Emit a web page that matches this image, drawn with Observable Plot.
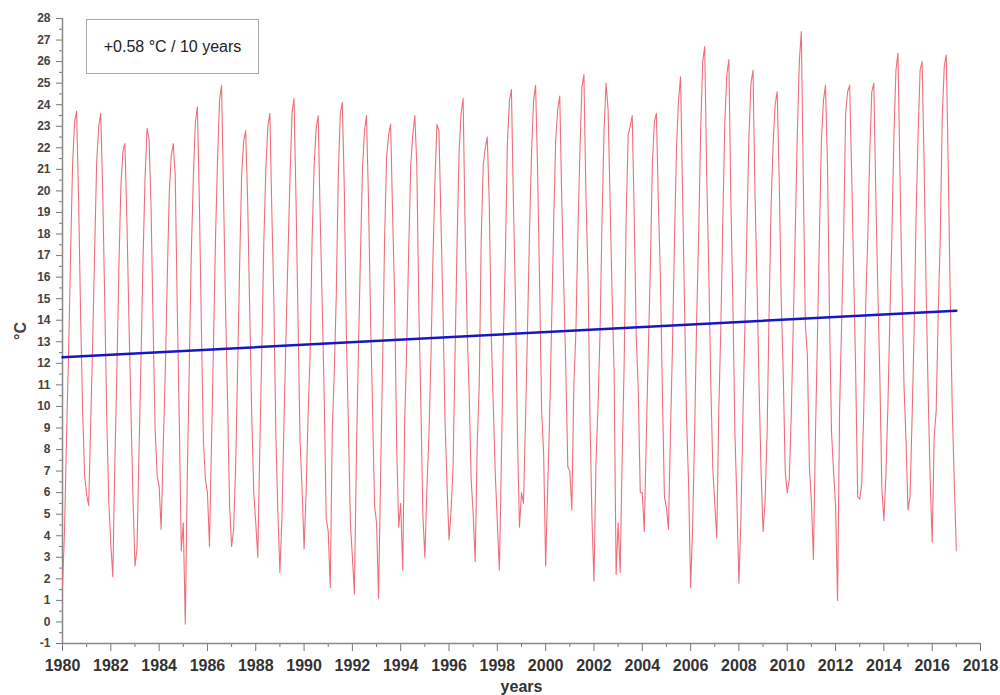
<!DOCTYPE html>
<html>
<head>
<meta charset="utf-8">
<script src="https://cdn.jsdelivr.net/npm/d3@7"></script>
<script src="https://cdn.jsdelivr.net/npm/@observablehq/plot@0.6"></script>
<style>
  body { margin: 0; background: #fff; }
  #wrap { position: relative; width: 1000px; height: 695px; font-family: "Liberation Sans", Arial, sans-serif; }
  #legend {
    position: absolute; left: 86px; top: 19px; width: 173px; height: 55px;
    box-sizing: border-box; border: 1px solid #aaa; background: #fff;
    display: flex; align-items: center; justify-content: center;
    font: 16px "Liberation Sans", Arial, sans-serif; color: #222;
  }
  svg g[aria-label="x-axis tick label"] text { font-weight: bold; }
  svg g[aria-label="y-axis tick label"] text { font-weight: bold; }
  svg g[aria-label="x-axis label"] text, svg g[aria-label="y-axis label"] text { font-weight: bold; font-size: 16px; }
</style>
</head>
<body>
<div id="wrap"><div id="legend">+0.58 °C / 10 years</div></div>
<script>
// ---- data (monthly mean temperature, °C) ----
const startYear = 1980;
const monthNames = ["Jan","Feb","Mar","Apr","May","Jun","Jul","Aug","Sep","Oct","Nov","Dec"];
const monthlyTemps = [
  [1.6, 4.2, 8.6, 12.4, 17.0, 21.2, 23.2, 23.7, 19.6, 14.2, 9.8, 6.8],   // 1980
  [5.9, 5.4, 9.2, 13.0, 17.4, 21.4, 23.0, 23.6, 19.8, 14.8, 9.4, 5.6],   // 1981
  [3.6, 2.1, 7.4, 11.6, 16.4, 20.2, 21.8, 22.2, 18.6, 14.0, 9.8, 5.8],   // 1982
  [2.6, 3.4, 7.8, 12.2, 16.8, 20.6, 22.9, 22.4, 19.2, 13.8, 9.0, 6.8],   // 1983
  [6.3, 4.3, 8.0, 11.4, 15.8, 19.8, 21.6, 22.2, 20.7, 14.6, 9.4, 3.3],   // 1984
  [4.6, -0.1, 6.8, 12.0, 17.2, 20.6, 23.2, 23.9, 19.4, 13.6, 8.4, 6.6],  // 1985
  [6.0, 3.5, 8.2, 12.8, 17.8, 21.4, 24.2, 24.9, 19.8, 14.6, 10.2, 5.4],  // 1986
  [3.5, 4.3, 7.2, 11.8, 16.6, 20.8, 22.3, 22.8, 19.4, 14.4, 9.6, 6.0],   // 1987
  [4.6, 3.0, 8.0, 12.6, 17.6, 21.0, 23.0, 23.6, 19.0, 14.8, 8.6, 5.0],   // 1988
  [2.3, 4.8, 9.2, 13.2, 17.0, 20.6, 23.6, 24.3, 19.6, 14.0, 8.4, 6.2],   // 1989
  [3.4, 6.0, 9.6, 12.4, 17.8, 21.2, 22.9, 23.5, 18.8, 14.8, 10.4, 4.8],  // 1990
  [4.2, 1.6, 8.8, 11.6, 15.2, 20.8, 23.6, 24.1, 20.0, 13.4, 9.2, 4.6],   // 1991
  [3.0, 1.3, 7.8, 12.6, 17.0, 21.0, 22.8, 23.5, 19.6, 14.2, 10.0, 5.4],  // 1992
  [4.6, 1.1, 6.8, 12.0, 17.8, 21.6, 22.6, 23.1, 18.8, 15.0, 8.2, 4.4],   // 1993
  [5.5, 2.4, 9.4, 12.8, 17.4, 21.2, 22.6, 23.5, 21.2, 14.6, 10.2, 5.0],  // 1994
  [3.0, 6.2, 8.6, 12.2, 16.8, 20.4, 23.1, 22.8, 18.6, 14.4, 9.4, 6.4],   // 1995
  [3.8, 5.1, 7.2, 12.4, 17.6, 21.8, 23.6, 24.3, 18.2, 13.6, 10.6, 6.6],  // 1996
  [5.0, 2.8, 8.2, 11.0, 17.8, 21.2, 22.0, 22.5, 19.4, 13.2, 10.0, 6.8],  // 1997
  [4.6, 2.4, 7.4, 13.2, 17.0, 22.2, 24.2, 24.7, 19.4, 15.0, 8.6, 4.4],   // 1998
  [6.0, 5.5, 9.4, 13.6, 18.2, 21.8, 24.2, 24.9, 21.0, 15.6, 9.8, 7.8],   // 1999
  [2.6, 6.2, 9.6, 14.0, 18.6, 22.4, 23.8, 24.4, 19.6, 15.6, 11.8, 7.2],  // 2000
  [7.0, 5.2, 11.0, 13.4, 18.0, 21.8, 24.8, 25.4, 19.8, 16.2, 9.6, 4.8],  // 2001
  [1.9, 7.4, 10.0, 13.4, 18.6, 22.8, 25.0, 23.8, 19.6, 15.2, 11.6, 2.2], // 2002
  [4.6, 2.3, 7.6, 12.0, 18.8, 22.6, 23.0, 23.5, 18.8, 13.2, 10.8, 6.0],  // 2003
  [6.0, 4.2, 8.6, 12.6, 16.4, 21.2, 23.2, 23.6, 19.4, 16.0, 10.6, 5.8],  // 2004
  [5.3, 4.3, 8.8, 12.8, 17.8, 22.0, 24.2, 25.3, 20.0, 14.6, 9.4, 6.4],   // 2005
  [1.6, 4.4, 8.8, 14.0, 18.0, 22.8, 26.0, 26.7, 20.8, 16.4, 11.2, 7.2],  // 2006
  [5.5, 3.9, 9.8, 13.6, 18.6, 23.2, 25.4, 26.1, 19.6, 14.8, 8.8, 5.6],   // 2007
  [1.8, 4.8, 9.6, 13.8, 18.4, 22.6, 25.0, 25.6, 19.8, 15.6, 11.0, 7.0],  // 2008
  [4.2, 5.6, 8.8, 14.4, 19.4, 22.2, 24.0, 24.6, 20.6, 15.0, 11.6, 7.0],  // 2009
  [6.0, 6.6, 9.6, 13.8, 18.2, 22.6, 26.0, 27.4, 20.4, 13.8, 12.4, 7.2],  // 2010
  [5.6, 2.9, 8.6, 13.2, 18.0, 22.4, 24.2, 24.9, 21.2, 14.2, 8.8, 7.0],   // 2011
  [5.4, 1.0, 9.8, 13.8, 17.8, 23.6, 24.6, 24.9, 20.8, 16.2, 11.6, 5.8],  // 2012
  [5.7, 6.4, 9.8, 14.8, 17.8, 21.8, 24.6, 25.0, 19.8, 15.4, 11.4, 6.2],  // 2013
  [4.7, 6.8, 10.0, 14.2, 18.0, 22.6, 25.6, 26.4, 20.8, 15.6, 11.0, 8.4], // 2014
  [5.2, 5.8, 9.4, 13.4, 18.8, 22.6, 25.6, 26.0, 21.2, 15.4, 10.6, 6.6],  // 2015
  [3.7, 8.6, 9.8, 14.4, 17.8, 23.4, 25.8, 26.3, 21.0, 14.8, 9.8, 6.4],   // 2016
  [3.3]                                                                  // 2017
];

// linear trend (+0.58 °C / 10 years), endpoints
const trendYears = [1980, 2017];
const trendValues = [12.28, 14.44];

// axes
const xDomain = [1980, 2018];
const yDomain = [-1, 28];
const xTicks = [1980, 1982, 1984, 1986, 1988, 1990, 1992, 1994, 1996, 1998, 2000, 2002, 2004, 2006, 2008, 2010, 2012, 2014, 2016, 2018];
const xMinorTicks = [1981, 1983, 1985, 1987, 1989, 1991, 1993, 1995, 1997, 1999, 2001, 2003, 2005, 2007, 2009, 2011, 2013, 2015, 2017];
const yTicks = [-1, 0, 1, 2, 3, 4, 5, 6, 7, 8, 9, 10, 11, 12, 13, 14, 15, 16, 17, 18, 19, 20, 21, 22, 23, 24, 25, 26, 27, 28];
const yMinorTicks = [-0.5, 0.5, 1.5, 2.5, 3.5, 4.5, 5.5, 6.5, 7.5, 8.5, 9.5, 10.5, 11.5, 12.5, 13.5, 14.5, 15.5, 16.5, 17.5, 18.5, 19.5, 20.5, 21.5, 22.5, 23.5, 24.5, 25.5, 26.5, 27.5];

// ---- build tables ----
const series = [];
monthlyTemps.forEach((row, i) => row.forEach((v, m) => series.push({t: startYear + i + m / 12, v, month: monthNames[m]})));
const trend = trendYears.map((t, i) => ({t, v: trendValues[i]}));

const chart = Plot.plot({
  width: 1000,
  height: 695,
  marginLeft: 62,
  marginRight: 20,
  marginTop: 18,
  marginBottom: 52,
  x: {domain: xDomain},
  y: {domain: yDomain},
  style: {fontFamily: '"Liberation Sans", Arial, sans-serif', background: "#fff", color: "#333"},
  marks: [
    Plot.axisY({ticks: yMinorTicks, tickSize: 3, tickFormat: () => "", label: null, stroke: "#777"}),
    Plot.axisY({ticks: yTicks, tickSize: 6, tickPadding: 6, fontSize: 12, tickFormat: d => String(d),
      label: "°C", labelAnchor: "center", labelArrow: "none", labelOffset: 48, stroke: "#777", fill: "#444"}),
    Plot.axisX({ticks: xMinorTicks, tickSize: 4, tickFormat: () => "", label: null, stroke: "#777"}),
    Plot.axisX({ticks: xTicks, tickSize: 8, tickPadding: 8, fontSize: 16, tickFormat: d => String(d),
      label: "years", labelAnchor: "center", labelArrow: "none", labelOffset: 48, stroke: "#777", fill: "#333"}),
    Plot.ruleY([yDomain[0]], {stroke: "#888", strokeWidth: 1.5}),
    Plot.ruleX([xDomain[0]], {stroke: "#888", strokeWidth: 1.5}),
    Plot.line(series, {x: "t", y: "v", stroke: "#ef6e7c", strokeWidth: 1.1}),
    Plot.line(trend, {x: "t", y: "v", stroke: "#1616c4", strokeWidth: 2.5})
  ]
});
// remove any axis-label arrows left by older Plot versions
d3.select(chart).selectAll('g[aria-label$="axis label"] text').each(function() {
  this.textContent = this.textContent.replace(/[\u2191\u2192\u2190\u2193]/g, "").trim();
});
const wrap = document.getElementById("wrap");
wrap.insertBefore(chart, wrap.firstChild);
</script>
</body>
</html>
